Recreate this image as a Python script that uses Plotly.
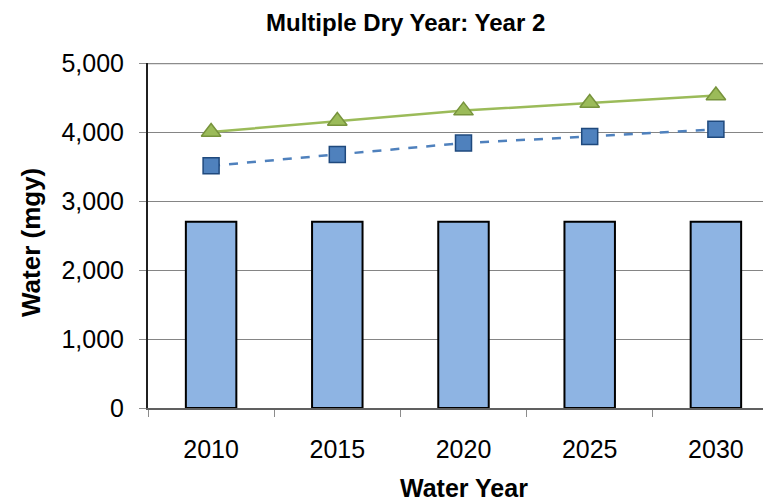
import plotly.graph_objects as go

years = ["2010", "2015", "2020", "2025", "2030"]
supply = [2700, 2700, 2700, 2700, 2700]
demand_high = [4000, 4160, 4310, 4420, 4530]
demand_low = [3510, 3675, 3840, 3935, 4040]
y_ticks = [0, 1000, 2000, 3000, 4000, 5000]
y_tick_labels = ["0", "1,000", "2,000", "3,000", "4,000", "5,000"]

FONT = "Liberation Sans, Arial, sans-serif"

# screen-space plot box in the reference (page has an 8px body margin)
PX0, PX1, PY0, PY1 = 148, 779, 63, 408


def px(x):
    return (x - PX0) / (PX1 - PX0)


def py(y):
    return (PY1 - y) / (PY1 - PY0)


fig = go.Figure()
fig.add_trace(go.Bar(
    x=years, y=supply, width=0.4,
    marker=dict(color="#8EB4E3", line=dict(color="#000000", width=2)),
    showlegend=False,
))
fig.add_trace(go.Scatter(
    x=years, y=demand_low, mode="lines+markers",
    line=dict(color="#4F81BD", width=2.5, dash="dash"),
    marker=dict(symbol="square", size=16, color="#4F81BD",
                line=dict(color="#1F497D", width=1.5)),
    showlegend=False,
))
fig.add_trace(go.Scatter(
    x=years, y=demand_high, mode="lines+markers",
    line=dict(color="#9BBB59", width=2.5),
    marker=dict(symbol="triangle-up", size=17, color="#9BBB59",
                line=dict(color="#77933C", width=1.5)),
    showlegend=False,
))

fig.add_shape(type="line", xref="paper", yref="y", x0=0, x1=1, y0=5000, y1=5000,
              line=dict(color="#8C8C8C", width=2.5), layer="above")

fig.update_layout(
    width=771, height=501,
    margin=dict(l=PX0 - 8, r=0, t=PY0 - 8, b=501 - (PY1 - 8)),
    plot_bgcolor="white", paper_bgcolor="white",
    font=dict(family=FONT, color="black"),
    annotations=[
        dict(text="<b>Multiple Dry Year: Year 2</b>", xref="paper", yref="paper",
             x=px(405), y=py(22), showarrow=False,
             font=dict(size=24, family=FONT, color="black"), xanchor="center", yanchor="middle"),
        dict(text="<b>Water (mgy)</b>", xref="paper", yref="paper",
             x=px(31), y=py(243), showarrow=False, textangle=-90,
             font=dict(size=26, family=FONT, color="black"), xanchor="center", yanchor="middle"),
        dict(text="<b>Water Year</b>", xref="paper", yref="paper",
             x=px(464), y=py(488), showarrow=False,
             font=dict(size=25, family=FONT, color="black"), xanchor="center", yanchor="middle"),
    ],
)
fig.update_xaxes(
    type="category", range=[-0.5, 4.5],
    tickson="boundaries", ticks="outside", ticklen=7, tickcolor="#8C8C8C", tickwidth=1,
    showline=True, linecolor="#606060", linewidth=1.5,
    showgrid=False, tickfont=dict(size=25, family=FONT, color="black"),
    ticklabelstandoff=18,
)
fig.update_yaxes(
    range=[0, 5000], tickvals=y_ticks, ticktext=y_tick_labels,
    ticks="outside", ticklen=7, tickcolor="#8C8C8C", tickwidth=1,
    showline=True, linecolor="#202020", linewidth=2,
    showgrid=True, gridcolor="#858585", gridwidth=1, zeroline=False,
    tickfont=dict(size=25, family=FONT, color="black"),
    ticklabelstandoff=10,
)

fig.write_html("out.html")
